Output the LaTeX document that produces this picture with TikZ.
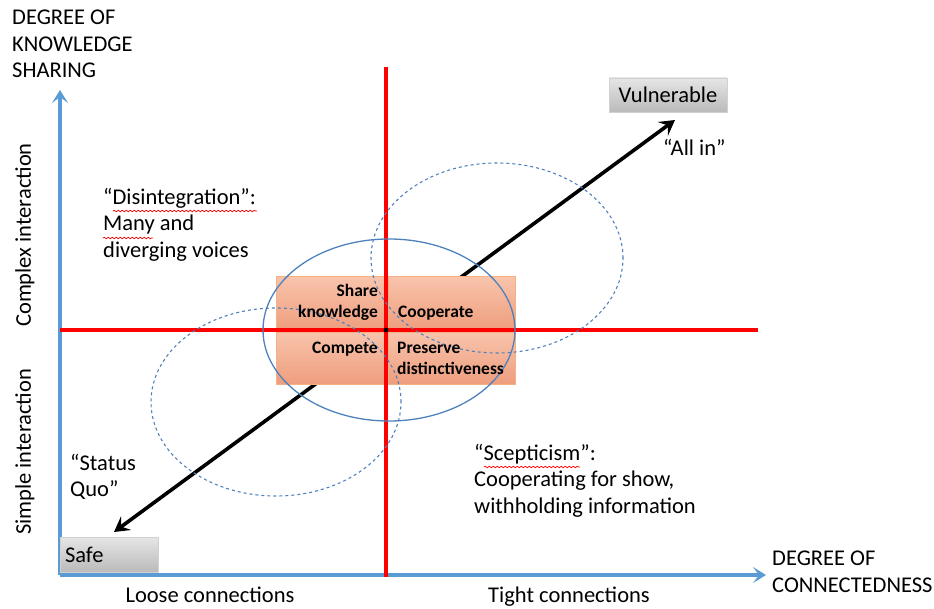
\documentclass[tikz,border=0pt]{standalone}
\usepackage{fontspec}
\setmainfont{Carlito}
\usetikzlibrary{arrows.meta}
\usetikzlibrary{decorations.pathmorphing}

\definecolor{axisblue}{RGB}{91,155,213}
\definecolor{ringblue}{RGB}{79,129,189}
\definecolor{salmontop}{RGB}{248,196,172}
\definecolor{salmonbot}{RGB}{238,158,126}
\definecolor{salmonedge}{RGB}{244,177,131}

\begin{document}
\begin{tikzpicture}[x=1pt,y=-1pt,
	spellmark/.style={
		decorate,
		decoration={snake,segment length=4pt,amplitude=0.8pt},
		draw=red,line width=0.7pt
	}]
	%\draw[help lines] (0,0) grid (934,609);
	\tikzstyle{bigtext} = [font=\fontsize{22.5}{26.5}\selectfont,inner sep=0pt,align=left]
	\tikzstyle{quadtext} = [font=\fontsize{17.5}{21}\selectfont\bfseries,inner sep=0pt]
	\tikzstyle{quadbox} = [draw=salmonedge,line width=0.6pt,top color=salmontop,bottom color=salmonbot,inner sep=0pt]
	\tikzstyle{greybox} = [draw=black!18,line width=0.6pt,top color=black!10,bottom color=black!27,inner sep=0pt,font=\fontsize{22.5}{26.5}\selectfont]
	\tikzstyle{axis} = [draw=axisblue,line width=3.6pt,-{Stealth[length=13pt,width=16pt,inset=6pt]}]
	\tikzstyle{split} = [draw=red,line width=3.4pt]
	\tikzstyle{ring} = [draw=ringblue,line width=1.3pt]
	\tikzstyle{edge} = [draw=black,line width=3.6pt,{Stealth[length=15pt,width=17pt,inset=6pt]}-{Stealth[length=15pt,width=17pt,inset=6pt]}]

	\useasboundingbox (0,0) rectangle (934,609);

	% axes
	\coordinate (o) at (60,575);
	\coordinate (ytop) at (60,90);
	\coordinate (xend) at (766,575);
	\draw[axis] (o) -- (ytop);
	\draw[axis] (o) -- (xend);

	% diagonal
	\coordinate (safeend) at (114,532);
	\coordinate (vulnend) at (675,120);
	\draw[edge] (safeend) -- (vulnend);

	% quadrant boxes
	\node[quadbox,minimum width=108pt,minimum height=53pt] (tl) at (330,303) {};
	\node[quadbox,minimum width=127pt,minimum height=53pt] (tr) at (451.5,303) {};
	\node[quadbox,minimum width=108pt,minimum height=52pt] (bl) at (330,358) {};
	\node[quadbox,minimum width=127pt,minimum height=52pt] (br) at (451.5,358) {};

	% red cross
	\coordinate (vtop) at (386,67);
	\coordinate (vbot) at (386,577);
	\coordinate (hleft) at (60,330);
	\coordinate (hright) at (758,330);
	\draw[split] (vtop) -- (vbot);
	\draw[split] (hleft) -- (hright);

	% ellipses
	\draw[ring] (389,330) ellipse [x radius=126pt,y radius=91pt];
	\draw[ring,dashed,line width=1.1pt] (497,258) ellipse [x radius=126pt,y radius=95pt];
	\draw[ring,dashed,line width=1.1pt] (276,402) ellipse [x radius=125pt,y radius=94pt];
	\fill (386,330) circle (2.4pt);

	% quadrant labels
	\node[quadtext,align=right,anchor=north east] (share) at (378,284) {Share\\knowledge};
	\node[quadtext,anchor=west] (coop) at (398,313) {Cooperate};
	\node[quadtext,anchor=east] (compete) at (378,349) {Compete};
	\node[quadtext,align=left,anchor=north west] (preserve) at (397,342) {Preserve\\distinctiveness};

	% end boxes
	\node[greybox,minimum width=118pt,minimum height=34pt] (vuln) at (668,95) {Vulnerable};
	\node[greybox,minimum width=98pt,minimum height=35pt,text width=88pt,align=left] (safe) at (109,554.5) {Safe};

	% scenario texts
	\node[bigtext,anchor=north west] (allin) at (663,139) {“All in”};
	\node[bigtext,anchor=north west] (disint) at (103,188) {“Disintegration”:\\Many and\\diverging voices};
	\node[bigtext,anchor=north west] (status) at (70,454) {“Status\\Quo”};
	\node[bigtext,anchor=north west] (scept) at (474,444) {“Scepticism”:\\Cooperating for show,\\withholding information};
	\draw[spellmark] (113,211) -- (257,211);
	\draw[spellmark] (103,238) -- (153,238);
	\draw[spellmark] (484,467) -- (580,467);

	% axis labels
	\node[bigtext,anchor=north west] (ylabel) at (12,10) {DEGREE OF\\KNOWLEDGE\\SHARING};
	\node[bigtext,anchor=north west] (xlabel) at (772,551) {DEGREE OF\\CONNECTEDNESS};
	\node[bigtext,rotate=90] (complex) at (25,235) {Complex interaction};
	\node[bigtext,rotate=90] (simple) at (25,452) {Simple interaction};
	\node[bigtext,anchor=north] (loose) at (210,587) {Loose connections};
	\node[bigtext,anchor=north] (tight) at (569,587) {Tight connections};
\end{tikzpicture}
\end{document}
